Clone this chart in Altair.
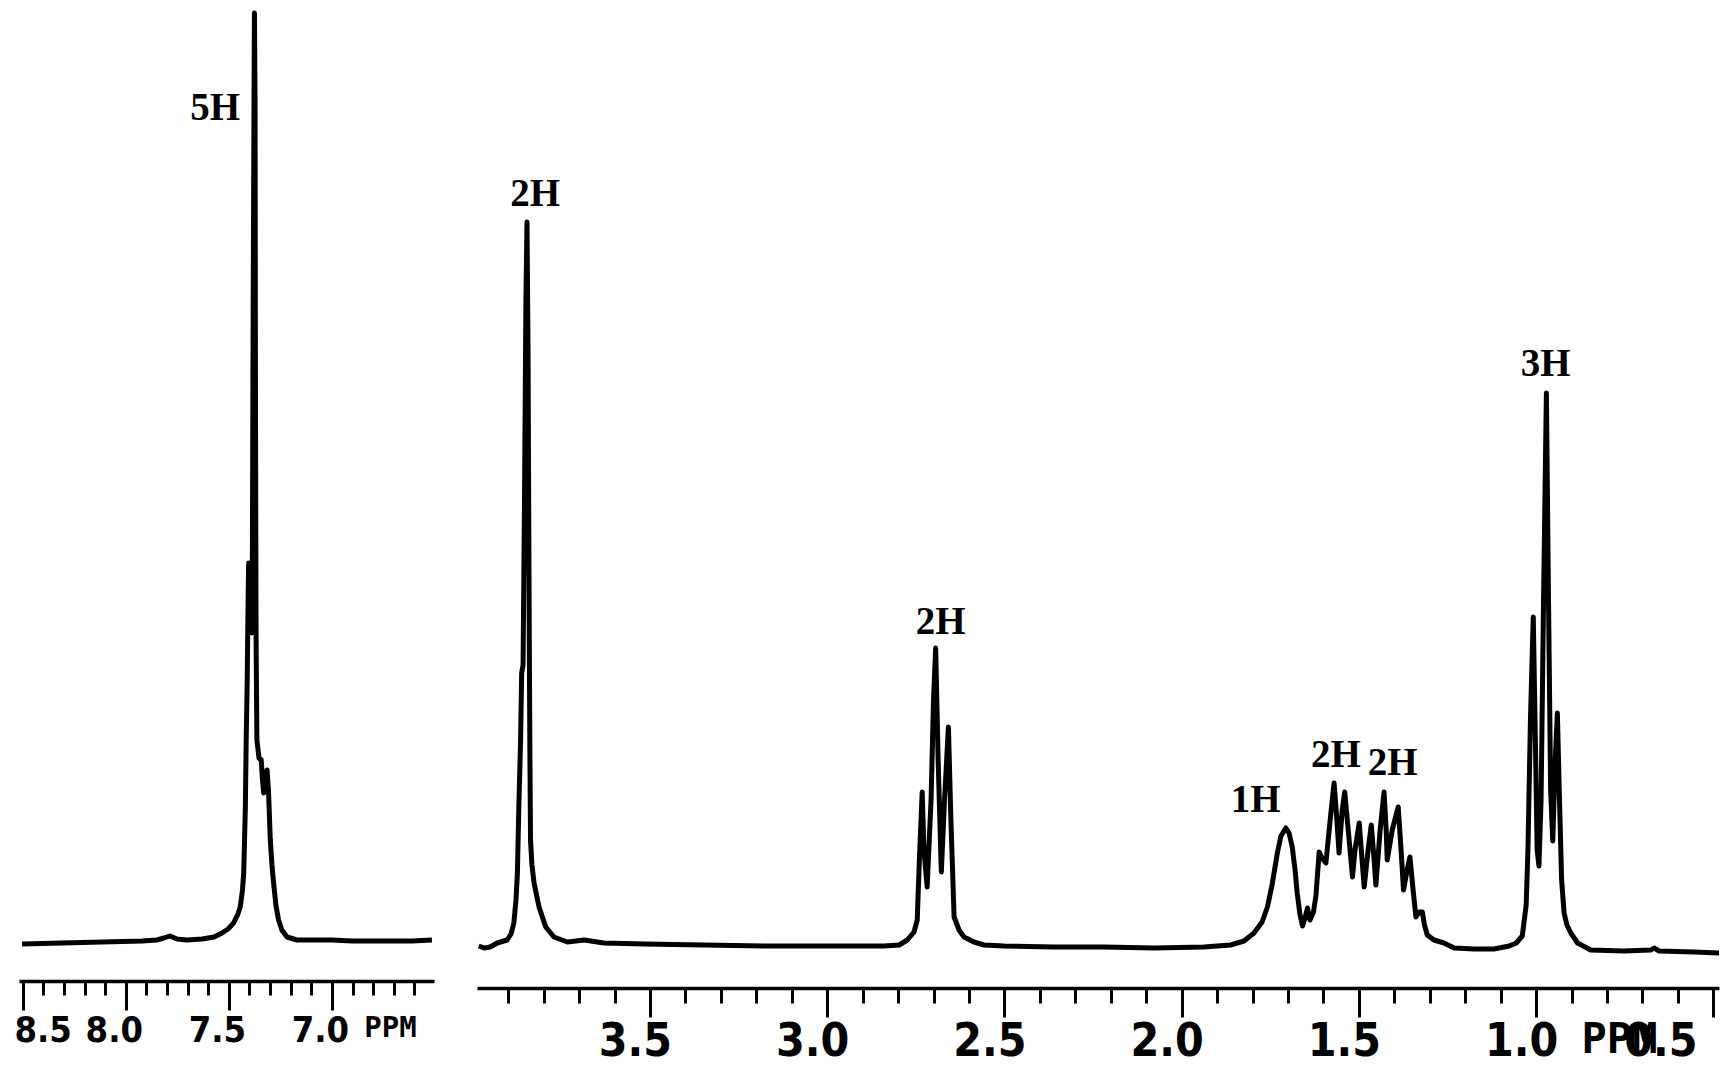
import altair as alt
import pandas as pd

# ---- spectrum readings (ppm, intensity) ----
left_ppm = [8.503, 8.309, 8.115, 7.921, 7.849, 7.815, 7.786, 7.752, 7.703, 7.630,
            7.572, 7.533, 7.504, 7.477, 7.456, 7.445, 7.434, 7.428, 7.424, 7.420,
            7.416, 7.411, 7.409, 7.406, 7.404, 7.400, 7.395, 7.390, 7.386, 7.382,
            7.378, 7.376, 7.373, 7.371, 7.368, 7.364, 7.354, 7.343, 7.337, 7.331,
            7.325, 7.315, 7.308, 7.299, 7.291, 7.283, 7.272, 7.259, 7.243, 7.218,
            7.170, 7.097, 7.000, 6.903, 6.758, 6.612, 6.515]
left_int = [26, 27, 28, 29, 30, 32, 34, 31, 30, 31,
            33, 37, 41, 47, 56, 63, 80, 97, 130, 163,
            230, 290, 330, 380, 407, 400, 370, 337, 410, 670,
            870, 957, 870, 570, 330, 230, 212, 210, 190, 177,
            192, 200, 180, 130, 105, 87, 65, 50, 40, 33,
            30, 30, 30, 29, 29, 29, 30]

right_ppm = [3.983, 3.968, 3.951, 3.931, 3.903, 3.892, 3.884, 3.878, 3.874, 3.872,
             3.870, 3.865, 3.862, 3.858, 3.854, 3.850, 3.847, 3.844, 3.841, 3.839,
             3.837, 3.833, 3.827, 3.813, 3.794, 3.771, 3.733, 3.686, 3.630, 3.517,
             3.348, 3.178, 3.009, 2.840, 2.797, 2.774, 2.755, 2.746, 2.740, 2.732,
             2.727, 2.718, 2.707, 2.700, 2.694, 2.687, 2.678, 2.669, 2.658, 2.651,
             2.642, 2.628, 2.614, 2.586, 2.558, 2.501, 2.360, 2.219, 2.078, 1.937,
             1.862, 1.824, 1.796, 1.773, 1.758, 1.745, 1.730, 1.720, 1.706, 1.697,
             1.688, 1.680, 1.674, 1.666, 1.659, 1.652, 1.645, 1.638, 1.628, 1.621,
             1.612, 1.604, 1.593, 1.581, 1.570, 1.562, 1.556, 1.547, 1.540, 1.530,
             1.518, 1.511, 1.499, 1.491, 1.485, 1.474, 1.465, 1.457, 1.452, 1.440,
             1.429, 1.423, 1.420, 1.406, 1.389, 1.381, 1.374, 1.364, 1.356, 1.347,
             1.339, 1.330, 1.321, 1.315, 1.307, 1.288, 1.260, 1.231, 1.175, 1.119,
             1.076, 1.056, 1.039, 1.028, 1.023, 1.016, 1.008, 1.003, 0.997, 0.992,
             0.986, 0.979, 0.971, 0.965, 0.959, 0.953, 0.946, 0.940, 0.934, 0.928,
             0.921, 0.913, 0.902, 0.883, 0.846, 0.752, 0.676, 0.667, 0.653, 0.554,
             0.481]
right_int = [24, 22, 23, 27, 30, 36, 47, 70, 97, 130,
             163, 230, 297, 305, 470, 670, 748, 620, 370, 230,
             130, 105, 87, 63, 43, 33, 28, 30, 27, 26,
             25, 24, 24, 24, 25, 30, 38, 50, 110, 178,
             120, 83, 170, 270, 322, 210, 98, 170, 243, 150,
             53, 40, 33, 28, 25, 24, 23, 23, 22, 23,
             25, 29, 37, 48, 63, 85, 117, 134, 142, 137,
             123, 100, 77, 55, 44, 52, 62, 50, 58, 75,
             118, 112, 107, 150, 187, 150, 117, 160, 178, 140,
             93, 120, 147, 110, 83, 120, 145, 110, 85, 140,
             178, 140, 110, 140, 163, 120, 80, 100, 113, 80,
             53, 58, 58, 45, 35, 30, 27, 22, 21, 21,
             24, 27, 34, 65, 120, 250, 353, 250, 120, 104,
             170, 370, 577, 370, 180, 129, 210, 257, 170, 90,
             57, 45, 37, 27, 20, 19, 20, 22, 19, 18,
             17]

# ---- integration labels ----
left_label_text = ["5H"]
left_label_ppm = [7.567]
left_label_int = [862]
right_label_text = ["2H", "2H", "1H", "2H", "2H", "3H"]
right_label_ppm = [3.824, 2.680, 1.791, 1.565, 1.405, 0.973]
right_label_int = [776, 348, 170, 215, 207, 606]

# ---- tick values ----
left_major = [8.5, 8.0, 7.5, 7.0]
left_minor = [8.4, 8.3, 8.2, 8.1, 7.9, 7.8, 7.7, 7.6, 7.4, 7.3, 7.2, 7.1,
              6.9, 6.8, 6.7, 6.6]
right_major = [3.5, 3.0, 2.5, 2.0, 1.5, 1.0, 0.5]
right_minor = [3.9, 3.8, 3.7, 3.6, 3.4, 3.3, 3.2, 3.1, 2.9, 2.8, 2.7, 2.6,
               2.4, 2.3, 2.2, 2.1, 1.9, 1.8, 1.7, 1.6, 1.4, 1.3, 1.2, 1.1,
               0.9, 0.8, 0.7, 0.6]

LABEL_FONT = "DejaVu Sans Condensed, DejaVu Sans Mono"
TITLE_FONT = "DejaVu Sans Mono"

left_df = pd.DataFrame({"ppm": left_ppm, "I": left_int, "idx": range(len(left_ppm))})
right_df = pd.DataFrame({"ppm": right_ppm, "I": right_int, "idx": range(len(right_ppm))})
left_lab = pd.DataFrame({"ppm": left_label_ppm, "I": left_label_int, "t": left_label_text})
right_lab = pd.DataFrame({"ppm": right_label_ppm, "I": right_label_int, "t": right_label_text})

yscale = alt.Scale(domain=[0, 960], nice=False, zero=False)
left_scale = alt.Scale(domain=[6.505, 8.518], reverse=True, nice=False, zero=False)
right_scale = alt.Scale(domain=[0.484, 3.988], reverse=True, nice=False, zero=False)


def major_axis(ticks, offset, font_size, off_cond, off_default, title_x, title_y,
               title_size, pad):
    return alt.Axis(
        orient="bottom",
        values=ticks,
        format=".1f",
        tickSize=29,
        labelOffset={"condition": {"test": off_cond[0], "value": off_cond[1]},
                     "value": off_default},
        labelPadding=pad,
        labelFont=LABEL_FONT,
        labelFontSize=font_size,
        labelFontWeight="bold",
        labelColor="black",
        labelOverlap=False,
        labelFlush=False,
        domainColor="black",
        domainWidth=3.5,
        tickColor="black",
        tickWidth=3,
        offset=offset,
        grid=False,
        title="PPM",
        titleFont=TITLE_FONT,
        titleFontSize=title_size,
        titleFontWeight="bold",
        titleColor="black",
        titleX=title_x,
        titleY=title_y,
        titleAlign="center",
        titleBaseline="top",
    )


def minor_axis(ticks, offset, size):
    return alt.Axis(
        orient="bottom",
        values=ticks,
        tickSize=size,
        tickColor="black",
        tickWidth=3,
        labels=False,
        domain=False,
        grid=False,
        offset=offset,
        title=None,
    )


line_style = dict(color="black", strokeWidth=5, strokeJoin="round", clip=True)
text_style = dict(font="Liberation Serif", fontWeight="bold", fontSize=39, color="black")


def panel(df, lab, scale, maj_axis, min_axis, width):
    line = alt.Chart(df).mark_line(**line_style).encode(
        x=alt.X("ppm:Q", scale=scale, axis=maj_axis),
        y=alt.Y("I:Q", scale=yscale, axis=None),
        order="idx:Q",
    )
    minor = alt.Chart(df).mark_point(opacity=0).encode(
        x=alt.X("ppm:Q", scale=scale, axis=min_axis),
        y=alt.Y("I:Q", scale=yscale, axis=None),
    )
    text = alt.Chart(lab).mark_text(**text_style).encode(
        x=alt.X("ppm:Q", scale=scale, axis=None),
        y=alt.Y("I:Q", scale=yscale, axis=None),
        text="t:N",
    )
    return (alt.layer(line, minor, text)
            .resolve_axis(x="independent")
            .properties(width=width, height=960))


left = panel(
    left_df, left_lab, left_scale,
    major_axis(left_major, 11, 36, ("datum.value > 8.45", 20), -12, 371, 32, 29, 3),
    minor_axis(left_minor, 11, 14),
    415,
)
right = panel(
    right_df, right_lab, right_scale,
    major_axis(right_major, 18, 46, ("datum.value < 0.55", -53), -15, 1142, 31, 42, 2),
    minor_axis(right_minor, 18, 15),
    1242,
)

chart = alt.hconcat(left, right, spacing=41).properties(
    padding={"left": 6, "top": 2, "right": 0, "bottom": 20},
    background="white",
).configure_view(stroke=None)

chart.save("out.html", embed_options={"renderer": "svg", "actions": False})
